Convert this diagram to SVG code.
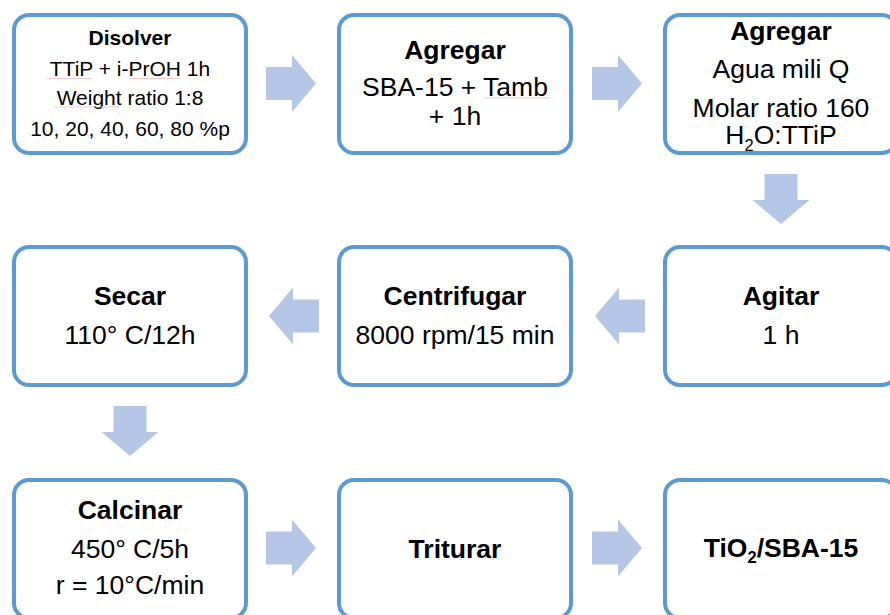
<svg xmlns="http://www.w3.org/2000/svg" width="890" height="615" viewBox="0 0 890 615">
  <style>
    .box { fill: #FFFFFF; stroke: #5B9BD5; stroke-width: 4; }
    .arrow { fill: #B4C7E7; stroke: none; }
    text { font-family: "Liberation Sans", Arial, sans-serif; fill: #000000; text-anchor: middle; }
    .t { font-size: 26.5px; font-weight: bold; }
    .l { font-size: 26.5px; }
    .ts { font-size: 21px; font-weight: bold; }
    .ls { font-size: 21px; }
    .sq { fill: none; stroke: #F0BDBD; stroke-width: 0.8; }
  </style>
  <defs>
    <!-- block arrow pointing right, origin at left end of shaft, centred vertically -->
    <path id="arrowR" d="M0,-16.5 H26 V-28.5 L50,0 L26,28.5 V16.5 H0 Z"/>
  </defs>
  <rect width="890" height="615" fill="#FFFFFF"/>

  <!-- connectors -->
  <g id="connectors" class="arrow">
    <use href="#arrowR" transform="translate(266,83.5)"/>
    <use href="#arrowR" transform="translate(592,83.5)"/>
    <use href="#arrowR" transform="translate(781,174) rotate(90)"/>
    <use href="#arrowR" transform="translate(645,316) rotate(180)"/>
    <use href="#arrowR" transform="translate(319,316) rotate(180)"/>
    <use href="#arrowR" transform="translate(130,406) rotate(90)"/>
    <use href="#arrowR" transform="translate(266,548)"/>
    <use href="#arrowR" transform="translate(592,548)"/>
  </g>

  <g id="disolver">
    <rect class="box" x="14" y="15" width="232" height="138" rx="15"/>
    <text class="ts" x="130" y="45">Disolver</text>
    <text class="ls" x="130" y="76">TTiP + i-PrOH 1h</text>
    <text class="ls" x="130" y="104.5">Weight ratio 1:8</text>
    <text class="ls" x="130" y="136">10, 20, 40, 60, 80 %p</text>
    <path class="sq" d="M47,78.5 H92 M129,78.5 H181 M55,107 H120"/>
  </g>

  <g id="agregar-sba">
    <rect class="box" x="339" y="15" width="232" height="138" rx="15"/>
    <text class="t" x="455" y="58.5">Agregar</text>
    <text class="l" x="455" y="96">SBA-15 + Tamb</text>
    <text class="l" x="455" y="124.5">+ 1h</text>
    <path class="sq" d="M483,98 H551"/>
  </g>

  <g id="agregar-agua">
    <rect class="box" x="665" y="15" width="232" height="138" rx="15"/>
    <text class="t" x="781" y="39.5">Agregar</text>
    <text class="l" x="781" y="77.5">Agua mili Q</text>
    <text class="l" x="781" y="116.5">Molar ratio 160</text>
    <text class="l" x="781" y="144">H<tspan font-size="16.5" dy="6.5">2</tspan><tspan dy="-6.5">O:TTiP</tspan></text>
  </g>

  <g id="agitar">
    <rect class="box" x="665" y="247" width="232" height="138" rx="15"/>
    <text class="t" x="781" y="305">Agitar</text>
    <text class="l" x="781" y="343.5">1 h</text>
  </g>

  <g id="centrifugar">
    <rect class="box" x="339" y="247" width="232" height="138" rx="15"/>
    <text class="t" x="455" y="305">Centrifugar</text>
    <text class="l" x="455" y="343.5">8000 rpm/15 min</text>
  </g>

  <g id="secar">
    <rect class="box" x="14" y="247" width="232" height="138" rx="15"/>
    <text class="t" x="130" y="304.5">Secar</text>
    <text class="l" x="130" y="343.5">110° C/12h</text>
  </g>

  <g id="calcinar">
    <rect class="box" x="14" y="480" width="232" height="138" rx="15"/>
    <text class="t" x="130" y="518.5">Calcinar</text>
    <text class="l" x="130" y="557.5">450° C/5h</text>
    <text class="l" x="130" y="594">r = 10°C/min</text>
  </g>

  <g id="triturar">
    <rect class="box" x="339" y="480" width="232" height="138" rx="15"/>
    <text class="t" x="455" y="557.5">Triturar</text>
  </g>

  <g id="producto">
    <rect class="box" x="665" y="480" width="232" height="138" rx="15"/>
    <text class="t" x="781" y="557">TiO<tspan font-size="16.5" dy="6">2</tspan><tspan dy="-6">/SBA-15</tspan></text>
  </g>
</svg>
